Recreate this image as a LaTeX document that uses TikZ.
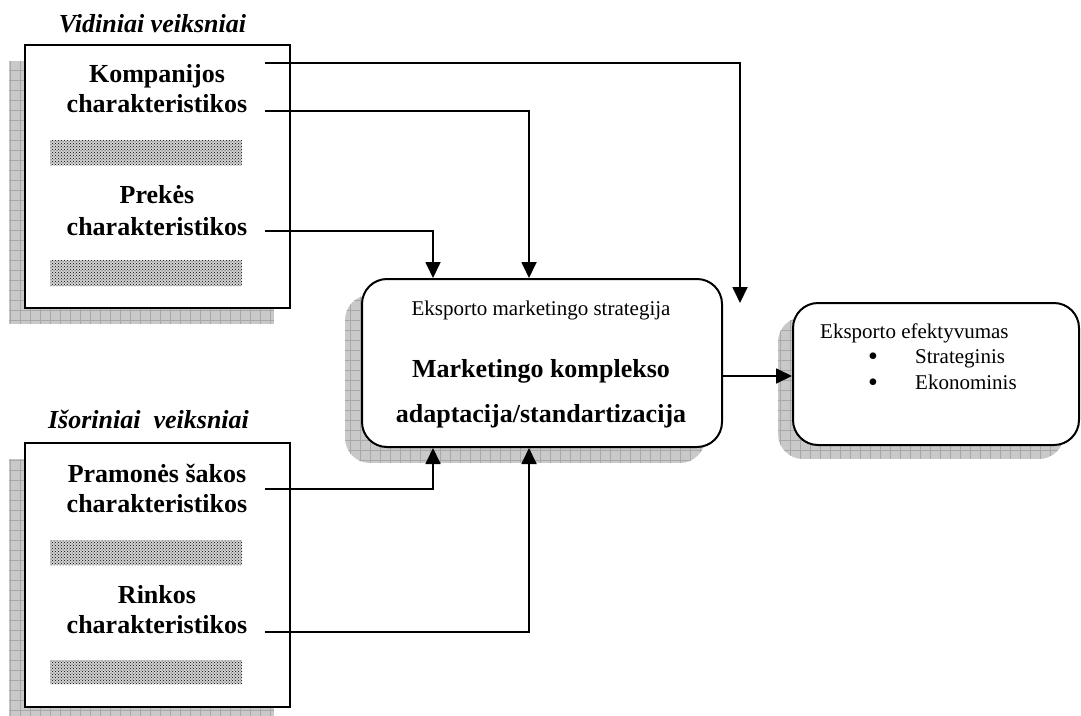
\documentclass[tikz,border=0pt]{standalone}
\usepackage{fontspec}
\setmainfont{Liberation Serif}
\usetikzlibrary{arrows.meta,patterns}
\tikzset{
  box/.style={draw,line width=2pt,fill=white,inner sep=0pt},
  rbox/.style={box,rounded corners=25pt},
  conn/.style={line width=1.8pt},
  arr/.style={conn,-{Triangle[length=16pt,width=15pt]}},
  big/.style={font=\fontsize{26}{30}\selectfont\bfseries,inner sep=0pt,anchor=base},
  small/.style={font=\fontsize{21}{25}\selectfont,inner sep=0pt,anchor=base},
  bul/.style={font=\fontsize{28}{28}\selectfont,inner sep=0pt,anchor=base,text height=12pt,text depth=0pt},
  ttl/.style={font=\fontsize{26}{30}\selectfont\bfseries\itshape,inner sep=0pt,anchor=base},
  dotbar/.style={pattern=crosshatch dots,pattern color=black},
  gridline/.style={gray!68,line width=1pt},
}
\newcommand\myshadow[5]{%
  \begin{scope}
    \clip[rounded corners=#5] (#1,#2) rectangle (#3,#4);
    \fill[gray!42] (#1,#2) rectangle (#3,#4);
    \foreach \gx in {0,10,...,1090} \draw[gridline] (\gx,#2) -- (\gx,#4);
    \foreach \gy in {0,10,...,730} \draw[gridline] (#1,\gy) -- (#3,\gy);
  \end{scope}}
\begin{document}
\begin{tikzpicture}[x=1pt,y=-1pt]
\useasboundingbox (0,0) rectangle (1081,715);
% shadows
\myshadow{9}{61}{274}{324}{0pt}
\myshadow{9}{459}{274}{723}{0pt}
\myshadow{345}{295}{705}{463}{25pt}
\myshadow{778}{317}{1064}{459}{25pt}
% boxes
\node[box,minimum width=265pt,minimum height=263pt] (vb) at (157.5,176.5) {};
\node[box,minimum width=265pt,minimum height=264pt] (ib) at (157.5,575) {};
\node[rbox,minimum width=360pt,minimum height=168pt] (mb) at (542,363) {};
\node[rbox,minimum width=286pt,minimum height=142pt] (eb) at (936,374) {};
% titles
\node[ttl] (vt) at (152.5,32) {Vidiniai veiksniai};
\node[ttl] (it) at (148.5,428) {Išoriniai\ \ veiksniai};
% left box texts
\node[big] (k1) at (157,82) {Kompanijos};
\node[big] (k2) at (157,112) {charakteristikos};
\node[big] (p1) at (157,203) {Prekės};
\node[big] (p2) at (157,235) {charakteristikos};
\node[big] (r1) at (157,482) {Pramonės šakos};
\node[big] (r2) at (157,512) {charakteristikos};
\node[big] (s1) at (157,603) {Rinkos};
\node[big] (s2) at (157,633) {charakteristikos};
% dotted bars
\fill[gray!35] (50,140) rectangle (242,165);
\fill[gray!35] (50,260) rectangle (242,286);
\fill[gray!35] (50,540) rectangle (242,565);
\fill[gray!35] (50,660) rectangle (242,684);
\fill[dotbar] (50,140) rectangle (242,165);
\fill[dotbar] (50,260) rectangle (242,286);
\fill[dotbar] (50,540) rectangle (242,565);
\fill[dotbar] (50,660) rectangle (242,684);
% middle texts
\node[small] (m1) at (541,315) {Eksporto marketingo strategija};
\node[big] (m2) at (541,377) {Marketingo komplekso};
\node[big] (m3) at (541,422) {adaptacija/standartizacija};
% right texts
\node[small,anchor=base west] (e1) at (820,338) {Eksporto efektyvumas};
\node[bul] (b1) at (873,365) {\textbullet};
\node[bul] (b2) at (873,391) {\textbullet};
\node[small,anchor=base west] (e2) at (915,363) {Strateginis};
\node[small,anchor=base west] (e3) at (915,389) {Ekonominis};
% connector start points
\coordinate (c1) at (265,63);
\coordinate (c2) at (265,111);
\coordinate (c3) at (265,231);
\coordinate (c4) at (265,489);
\coordinate (c5) at (265,632);
\draw[arr] (c1) -| ([xshift=-196pt,yshift=-1pt]eb.north);
\draw[arr] (c2) -| ([xshift=-13pt]mb.north);
\draw[arr] (c3) -| ([xshift=-109pt]mb.north);
\draw[arr] (c4) -| ([xshift=-109pt]mb.south);
\draw[arr] (c5) -| ([xshift=-13pt]mb.south);
\draw[arr] ([yshift=-13pt]mb.east) -- ([yshift=-13pt]mb.east -| eb.west);
\end{tikzpicture}
\end{document}
